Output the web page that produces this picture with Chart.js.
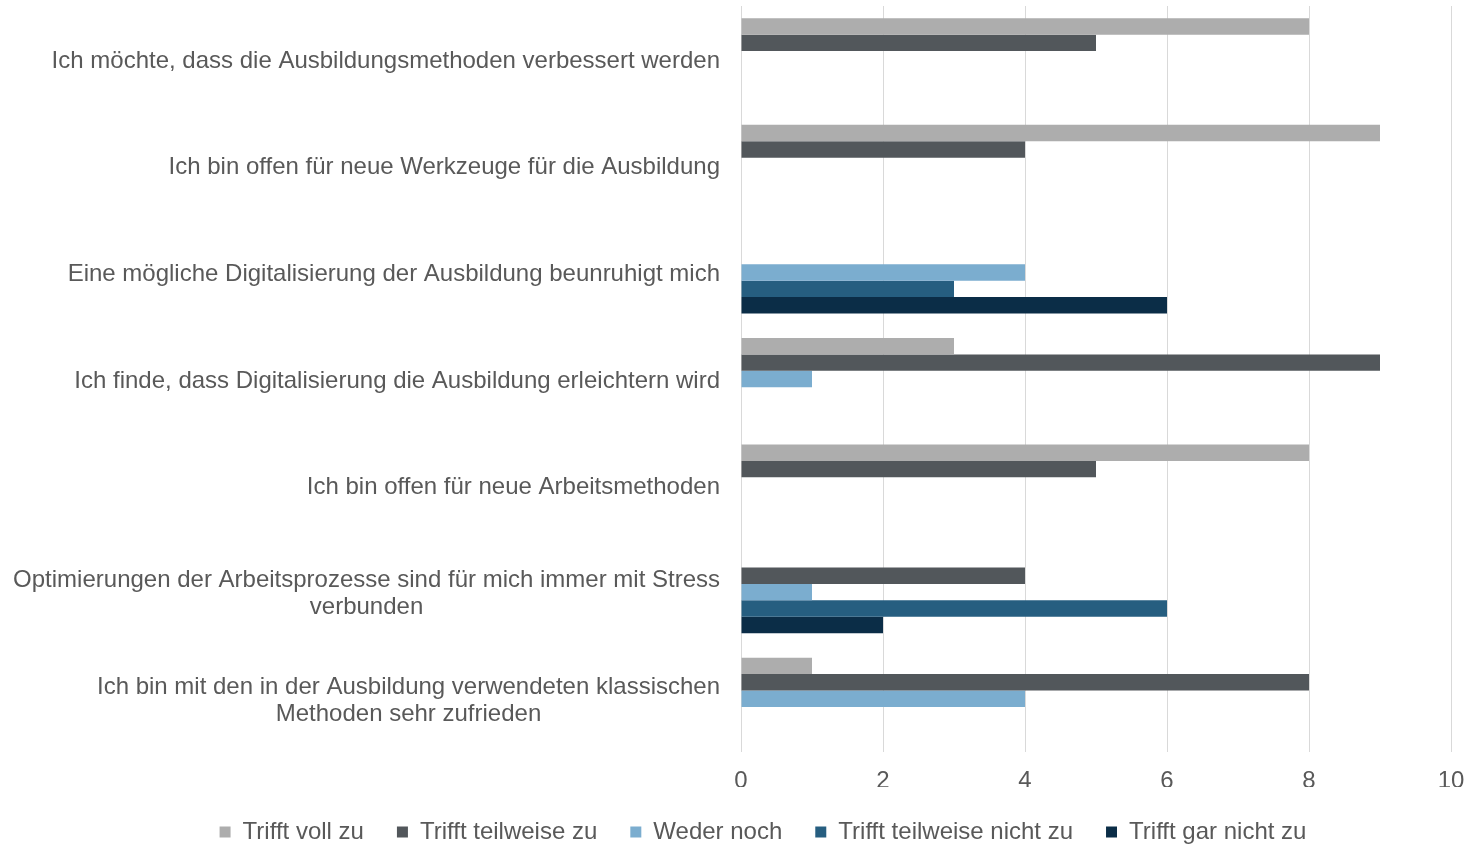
<!DOCTYPE html>
<html>
<head>
<meta charset="utf-8">
<script src="https://cdn.jsdelivr.net/npm/chart.js@4.4.1/dist/chart.umd.min.js"></script>
<style>
    html, body { margin: 0; padding: 0; background: #fff; }
</style>
</head>
<body>
<canvas id="aussagenChart" width="1470" height="846"></canvas>
<script>
// Daten : Start
const aussagen = [
    ['Ich möchte, dass die Ausbildungsmethoden verbessert werden'],
    ['Ich bin offen für neue Werkzeuge für die Ausbildung'],
    ['Eine mögliche Digitalisierung der Ausbildung beunruhigt mich'],
    ['Ich finde, dass Digitalisierung die Ausbildung erleichtern wird'],
    ['Ich bin offen für neue Arbeitsmethoden'],
    ['Optimierungen der Arbeitsprozesse sind für mich immer mit Stress', 'verbunden'],
    ['Ich bin mit den in der Ausbildung verwendeten klassischen', 'Methoden sehr zufrieden']
];
const trifftVollZu = [8, 9, 0, 3, 8, 0, 1];
const trifftTeilweiseZu = [5, 4, 0, 9, 5, 4, 8];
const wederNoch = [0, 0, 4, 1, 0, 1, 4];
const trifftTeilweiseNichtZu = [0, 0, 3, 0, 0, 6, 0];
const trifftGarNichtZu = [0, 0, 6, 0, 0, 2, 0];
const xTicks = [0, 2, 4, 6, 8, 10];
// Daten : End

Chart.defaults.font.family = '"Liberation Sans", Arial, sans-serif';
Chart.defaults.font.size = 24;
Chart.defaults.color = '#595959';

// Beschriftung der Kategorien (rechtsbündig, Zeilen untereinander zentriert)
const yBeschriftung = {
    id: 'yBeschriftung',
    afterDraw(chart) {
        const ctx = chart.ctx;
        const yAchse = chart.scales.y;
        const rechts = yAchse.right - 21;
        ctx.save();
        ctx.font = '24px "Liberation Sans", Arial, sans-serif';
        ctx.fillStyle = '#595959';
        ctx.textAlign = 'center';
        ctx.textBaseline = 'middle';
        aussagen.forEach((zeilen, i) => {
            const mitte = yAchse.getPixelForValue(i) + 2;
            const breite = Math.max(...zeilen.map(z => ctx.measureText(z).width));
            zeilen.forEach((zeile, j) => {
                ctx.fillText(zeile, rechts - breite / 2, mitte + (j - (zeilen.length - 1) / 2) * 27);
            });
        });
        ctx.restore();
    }
};

// Legende niedriger machen, sonst frisst das Padding den Platz
const legendenHoehe = {
    id: 'legendenHoehe',
    beforeInit(chart) {
        if (!chart.legend) return;
        const fitOrig = chart.legend.fit;
        chart.legend.fit = function () {
            fitOrig.call(this);
            this.height = 59;
        };
    }
};

var ctx = document.getElementById('aussagenChart').getContext('2d');
var aussagenChart = new Chart(ctx, {
    type: 'bar',
    data: {
        labels: aussagen,
        datasets: [{
            label: 'Trifft voll zu',
            data: trifftVollZu,
            backgroundColor: '#ADADAD'
        }, {
            label: 'Trifft teilweise zu',
            data: trifftTeilweiseZu,
            backgroundColor: '#52575B'
        }, {
            label: 'Weder noch',
            data: wederNoch,
            backgroundColor: '#7BADCF'
        }, {
            label: 'Trifft teilweise nicht zu',
            data: trifftTeilweiseNichtZu,
            backgroundColor: '#265E80'
        }, {
            label: 'Trifft gar nicht zu',
            data: trifftGarNichtZu,
            backgroundColor: '#0B2D47'
        }]
    },
    options: {
        indexAxis: 'y',
        responsive: false,
        animation: false,
        devicePixelRatio: 1,
        categoryPercentage: 0.77,
        barPercentage: 1.0,
        borderWidth: 0,
        layout: {
            padding: { left: 75, right: 19, top: 6, bottom: 0 }
        },
        plugins: {
            legend: {
                position: 'bottom',
                labels: {
                    boxWidth: 11,
                    boxHeight: 11,
                    padding: 33,
                    color: '#595959',
                    font: { size: 24 }
                }
            },
            title: { display: false },
            tooltip: { enabled: false }
        },
        scales: {
            x: {
                min: 0,
                max: 10,
                afterBuildTicks: achse => { achse.ticks = xTicks.map(v => ({ value: v })); },
                grid: { color: '#D9D9D9', lineWidth: 1, drawTicks: false },
                border: { display: false },
                ticks: { color: '#595959', font: { size: 24 }, padding: 15 },
                afterFit: achse => {
                    achse.height = 35;
                    achse.paddingLeft = 0;
                    achse.paddingRight = 0;
                }
            },
            y: {
                grid: { display: false },
                border: { display: false },
                ticks: { display: false },
                afterFit: achse => { achse.width = 666; }
            }
        }
    },
    plugins: [yBeschriftung, legendenHoehe]
});
</script>
</body>
</html>
